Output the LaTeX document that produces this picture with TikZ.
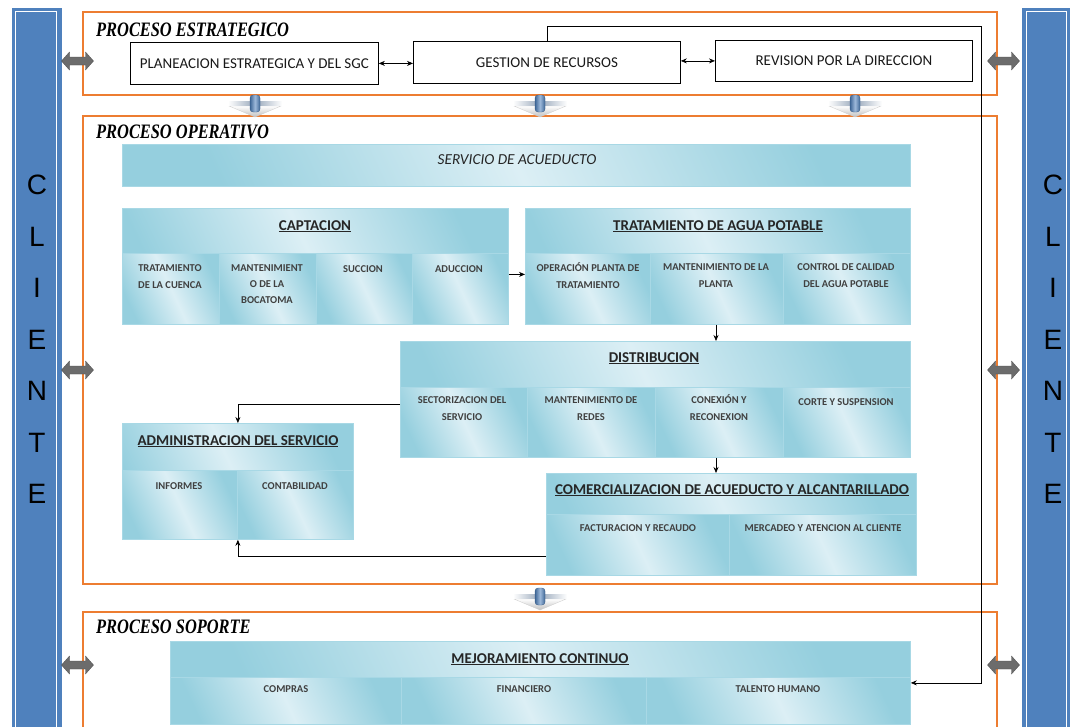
\documentclass[tikz,border=0pt]{standalone}
\usepackage{fontspec}
\setmainfont{Carlito}
\newfontfamily\titlefont[FakeStretch=0.8]{Liberation Serif}
\newfontfamily\sidefont{Liberation Sans}
\usetikzlibrary{arrows.meta,calc}
\definecolor{barblue}{HTML}{4F81BD}
\definecolor{frameorange}{HTML}{ED7D31}
\definecolor{cellL}{HTML}{DCEFF5}
\definecolor{cellD}{HTML}{95CFDE}
\definecolor{cellB}{HTML}{A8D8E5}
\tikzset{
  frame/.style={draw=frameorange, line width=1.8pt},
  cell/.style={draw=cellB, line width=0.8pt, left color=cellD, right color=cellD,
    middle color=cellL, shading angle=115, inner sep=0pt},
  plain/.style={draw=black, line width=0.8pt, fill=white, inner sep=0pt,
    font=\fontsize{15}{17}\selectfont, text=black!90},
  head/.style={font=\fontsize{15}{17}\selectfont\bfseries, text=black!85,
    anchor=base, inner sep=0pt},
  sub/.style={font=\fontsize{10.5}{17.5}\selectfont\bfseries, text=black!75, align=center,
    anchor=north, inner sep=0pt},
  ttl/.style={font=\titlefont\fontsize{20.5}{20}\selectfont\bfseries\itshape,
    anchor=base west, inner sep=0pt},
  arr/.style={draw=black, line width=0.7pt, -{Stealth[length=6pt,width=5pt]}},
  darr/.style={draw=black, line width=0.7pt,
    {Stealth[length=6pt,width=5pt]}-{Stealth[length=6pt,width=5pt]}},
  side/.style={font=\sidefont\fontsize{28}{28}\selectfont, inner sep=0pt},
  sidearrow/.pic={
    \shade[top color=gray!85!black, middle color=gray!30, bottom color=gray!85!black,
      draw=gray!60!black, line width=0.3pt]
      (-16,0) -- (-8,-9) -- (-8,-4) -- (8,-4) -- (8,-9) -- (16,0)
      -- (8,9) -- (8,4) -- (-8,4) -- (-8,9) -- cycle;
  },
  link/.pic={
    \shade[top color=white, bottom color=gray!50, draw=gray!40, line width=0.3pt]
      (-26,2) -- (-4,2) -- (0,4) -- (4,2) -- (26,2) -- (0,13) -- cycle;
    \shade[left color=white, right color=white, middle color=barblue!45!gray!70]
      (-27,-3) rectangle (27,1);
    \shade[left color=barblue!80!black, right color=barblue!80!black,
      middle color=barblue!55, draw=barblue!70!black, line width=0.3pt,
      rounded corners=3pt] (-5,-9) rectangle (5,8);
  },
}
% box with its top-left and bottom-right corners given in pixels
\newcommand\cellat[5]{%
  \node[cell, anchor=north west, minimum width=#4pt-#2pt,
    minimum height=#5pt-#3pt] (#1) at (#2,#3) {};}
\begin{document}
\begin{tikzpicture}[x=1pt,y=-1pt]
\useasboundingbox (0,0) rectangle (1070,726);
\clip (0,0) rectangle (1070,726);
\fill[white] (0,0) rectangle (1070,726);

% client bars
\fill[barblue] (12,8) rectangle (62,740);
\draw[white, line width=1pt] (15,11.5) rectangle (56,740);
\fill[barblue] (1022,8) rectangle (1070,740);
\draw[white, line width=1pt] (1026,11.5) rectangle (1066,740);
\foreach \l [count=\i] in {C,L,I,E,N,T,E} {
  \node[side] (cl\i) at (37,{185+51.5*(\i-1)}) {\l};
  \node[side] (cr\i) at (1053,{185+51.5*(\i-1)}) {\l};
}

% process frames
\draw[frame] (83,12) rectangle (997,95);
\draw[frame] (83,116) rectangle (997,584);
\draw[frame] (83,612) rectangle (997,740);
\node[ttl] (tE) at (96,36) {PROCESO ESTRATEGICO};
\node[ttl] (tO) at (96,138) {PROCESO OPERATIVO};
\node[ttl] (tS) at (96,633) {PROCESO SOPORTE};

% strategic process
\node[plain, anchor=north west, minimum width=248pt, minimum height=42pt] (plan) at (130,42)
  {PLANEACION ESTRATEGICA Y DEL SGC};
\node[plain, anchor=north west, minimum width=267pt, minimum height=42pt] (gest) at (413,41)
  {GESTION DE RECURSOS};
\node[plain, anchor=north west, minimum width=257pt, minimum height=41pt] (rev) at (715,40)
  {REVISION POR LA DIRECCION};
\draw[darr] (plan.east) -- (plan.east -| gest.west);
\draw[darr] (gest.east |- rev.east) -- (rev.east -| rev.west);

% operative process
\cellat{serv}{122}{144}{910}{186}
\node[font=\fontsize{15.3}{17}\selectfont\itshape, text=black!85] (servt) at (517,160) {SERVICIO DE ACUEDUCTO};

\cellat{capt}{122}{208}{508}{324}
\cellat{capA}{122}{253}{219}{324}
\cellat{capB}{219}{253}{316}{324}
\cellat{capC}{316}{253}{412}{324}
\cellat{capD}{412}{253}{508}{324}
\node[head] (captt) at (315,230) {\underline{CAPTACION}};
\node[sub] (capAt) at (170,264) {TRATAMIENTO\\DE LA CUENCA};
\node[sub, font=\fontsize{10.5}{16}\selectfont\bfseries] (capBt) at (267,264) {MANTENIMIENT\\O DE LA\\BOCATOMA};
\node[sub] (capCt) at (363,265) {SUCCION};
\node[sub] (capDt) at (459,265) {ADUCCION};

\cellat{trat}{525}{208}{910}{324}
\cellat{traA}{525}{253}{650}{324}
\cellat{traB}{650}{253}{783}{324}
\cellat{traC}{783}{253}{910}{324}
\node[head] (tratt) at (718,230) {\underline{TRATAMIENTO DE AGUA POTABLE}};
\node[sub] (traAt) at (588,262) {OPERACIÓN PLANTA DE\\TRATAMIENTO};
\node[sub] (traBt) at (716,263) {MANTENIMIENTO DE LA\\PLANTA};
\node[sub] (traCt) at (846,263) {CONTROL DE CALIDAD\\DEL AGUA POTABLE};

\cellat{dist}{400}{341}{910}{457}
\cellat{disA}{400}{387}{527}{457}
\cellat{disB}{527}{387}{655}{457}
\cellat{disC}{655}{387}{783}{457}
\cellat{disD}{783}{387}{910}{457}
\node[head] (distt) at (654,362) {\underline{DISTRIBUCION}};
\node[sub] (disAt) at (462,396) {SECTORIZACION DEL\\SERVICIO};
\node[sub] (disBt) at (591,396) {MANTENIMIENTO DE\\REDES};
\node[sub] (disCt) at (719,394) {CONEXIÓN Y\\RECONEXION};
\node[sub] (disDt) at (846,398) {CORTE Y SUSPENSION};

\cellat{adm}{122}{423}{353}{539}
\cellat{admA}{122}{470}{237}{539}
\cellat{admB}{237}{470}{353}{539}
\node[head] (admt) at (238,445) {\underline{ADMINISTRACION DEL SERVICIO}};
\node[sub] (admAt) at (179,482) {INFORMES};
\node[sub] (admBt) at (295,482) {CONTABILIDAD};

\cellat{comm}{546}{473}{916}{575}
\cellat{comA}{546}{514}{729}{575}
\cellat{comB}{729}{514}{916}{575}
\node[head] (commt) at (732,494) {\underline{COMERCIALIZACION DE ACUEDUCTO Y ALCANTARILLADO}};
\node[sub] (comAt) at (638,524) {FACTURACION Y RECAUDO};
\node[sub] (comBt) at (823,524) {MERCADEO Y ATENCION AL CLIENTE};

% support process
\cellat{mej}{170}{641}{910}{724}
\cellat{mejA}{170}{677}{401}{724}
\cellat{mejB}{401}{677}{646}{724}
\cellat{mejC}{646}{677}{910}{724}
\node[head] (mejt) at (540,663) {\underline{MEJORAMIENTO CONTINUO}};
\node[sub] (mejAt) at (286,685) {COMPRAS};
\node[sub] (mejBt) at (524,685) {FINANCIERO};
\node[sub] (mejCt) at (778,685) {TALENTO HUMANO};

% flow between operative stages
\draw[arr] ([yshift=-8pt]capt.east) -- ([yshift=-8pt]trat.west);
\draw[arr] (trat.south -| traBt) -- (dist.north -| traBt);
\draw[arr] ([yshift=-5pt]dist.west) -| (adm.north);
\draw[arr] (dist.south -| traBt) -- (comm.north -| traBt);
\draw[arr] ([yshift=-32pt]comm.west) -| (adm.south);

% resources feed the support process
\coordinate (rtop) at (981,26);
\draw[arr] (gest.north) |- (rtop) |- (mej.east);

% links between the client and the processes
\foreach \y/\n in {61/a,370/b,665/c} {
  \pic (sl\n) at (77.5,\y) {sidearrow};
  \pic (sr\n) at (1003.5,\y) {sidearrow};
}
% links between process levels
\pic (lk1) at (255,104) {link};
\pic (lk2) at (540,104) {link};
\pic (lk3) at (855,104) {link};
\pic (lk4) at (540,597) {link};
\end{tikzpicture}
\end{document}
